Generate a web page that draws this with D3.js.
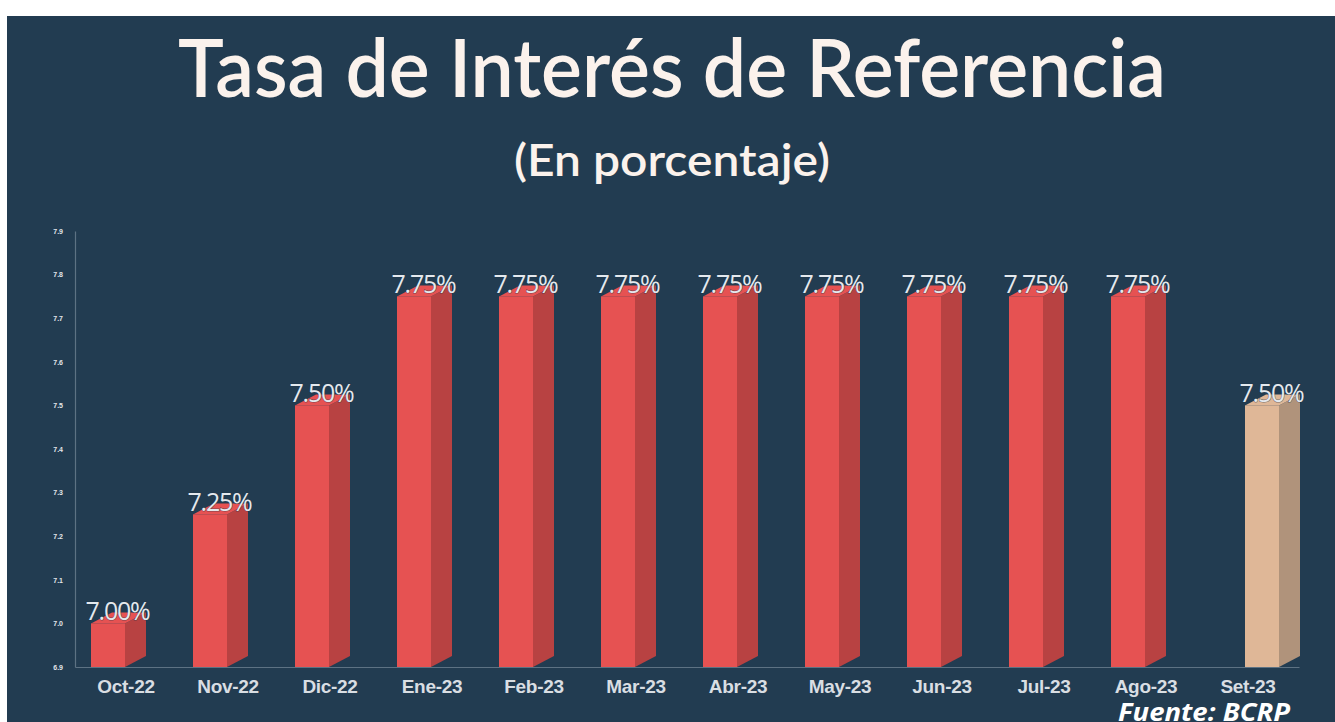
<!DOCTYPE html>
<html>
<head>
<meta charset="utf-8">
<script src="https://cdn.jsdelivr.net/npm/d3@7"></script>
<style>
  html, body { margin: 0; padding: 0; background: #fff; }
  svg { display: block; }
</style>
</head>
<body>
<div id="chart"></div>
<script>
// Tasa de interés de referencia BCRP, Oct-22 a Set-23
const months = ["Oct-22", "Nov-22", "Dic-22", "Ene-23", "Feb-23", "Mar-23", "Abr-23",
                "May-23", "Jun-23", "Jul-23", "Ago-23", "Set-23"];
const rates = [7.00, 7.25, 7.50, 7.75, 7.75, 7.75, 7.75, 7.75, 7.75, 7.75, 7.75, 7.50];
const yTicks = [6.9, 7.0, 7.1, 7.2, 7.3, 7.4, 7.5, 7.6, 7.7, 7.8, 7.9];
const lastMonth = "Set-23"; // highlighted in a different colour

const W = 1335, H = 722;
const BG = "#223c51";
const FRONT = "#e65252", SIDE = "#b84242";
const FRONT_HI = "#dfb797", SIDE_HI = "#b0937b";
const DEPTH_X = 21, DEPTH_Y = 11, FACE_W = 34;

const svg = d3.select("#chart").append("svg")
  .attr("width", W).attr("height", H);

svg.append("rect").attr("x", 7).attr("y", 16).attr("width", W - 7).attr("height", H - 16)
  .attr("fill", BG);

// titles
svg.append("text").attr("x", 672).attr("y", 97).attr("text-anchor", "middle")
  .attr("font-family", "Lato, 'Open Sans', sans-serif").attr("font-size", 80)
  .attr("font-weight", 600).attr("fill", "#fbf2ec")
  .attr("textLength", 988).attr("lengthAdjust", "spacingAndGlyphs")
  .text("Tasa de Interés de Referencia");
svg.append("text").attr("x", 672).attr("y", 176).attr("text-anchor", "middle")
  .attr("font-family", "Lato, 'Open Sans', sans-serif").attr("font-size", 44)
  .attr("font-weight", 600).attr("fill", "#fbf2ec")
  .attr("textLength", 316).attr("lengthAdjust", "spacingAndGlyphs")
  .text("(En porcentaje)");

const x = d3.scaleBand().domain(months).range([75, 1299]);
const y = d3.scaleLinear().domain([6.9, 7.9]).range([667, 231]);

// axes
const yAxis = svg.append("g").attr("transform", "translate(75,0)")
  .call(d3.axisLeft(y).tickValues(yTicks).tickSize(0).tickPadding(12).tickFormat(d3.format(".1f")));
yAxis.select(".domain").attr("stroke", "#5d7283").attr("stroke-width", 1.2);
yAxis.selectAll("text").attr("fill", "#e2e6ea").attr("font-size", 7)
  .attr("font-weight", 700).attr("font-family", "'Liberation Sans', Arial, sans-serif");

const xAxis = svg.append("g").attr("transform", "translate(0,667)")
  .call(d3.axisBottom(x).tickSize(0).tickPadding(13));
xAxis.select(".domain").attr("stroke", "#5d7283").attr("stroke-width", 1.2);
xAxis.selectAll("text").attr("fill", "#d9dee3").attr("font-size", 19)
  .attr("font-weight", 700).attr("letter-spacing", -0.3)
  .attr("font-family", "'Liberation Sans', Arial, sans-serif");

// 3D bars
const rows = months.map((m, i) => ({ m, v: rates[i] }));
const bx = d => x(d.m) + x.bandwidth() / 2 - 35 + (d.m === lastMonth ? 32 : 0);
const base = y(6.9);

const bars = svg.append("g").selectAll("g").data(rows).join("g");
bars.append("path")
  .attr("fill", d => d.m === lastMonth ? SIDE_HI : SIDE)
  .attr("d", d => {
    const x0 = bx(d) + FACE_W, t = y(d.v);
    return `M${x0},${t}L${x0 + DEPTH_X},${t - DEPTH_Y}L${x0 + DEPTH_X},${base - DEPTH_Y}L${x0},${base}Z`;
  });
bars.append("path")
  .attr("fill", d => d.m === lastMonth ? FRONT_HI : FRONT)
  .attr("d", d => {
    const x0 = bx(d), t = y(d.v);
    return `M${x0},${t}L${x0 + DEPTH_X},${t - DEPTH_Y}L${x0 + FACE_W + DEPTH_X},${t - DEPTH_Y}L${x0 + FACE_W},${t}Z`;
  });
bars.append("rect")
  .attr("x", d => bx(d)).attr("y", d => y(d.v))
  .attr("width", FACE_W).attr("height", d => base - y(d.v))
  .attr("fill", d => d.m === lastMonth ? FRONT_HI : FRONT);

// value labels
bars.append("text")
  .attr("x", d => bx(d) + (FACE_W + DEPTH_X) / 2 - 1)
  .attr("y", d => y(d.v) - 3)
  .attr("text-anchor", "middle")
  .attr("font-family", "'Open Sans', sans-serif").attr("font-size", 25)
  .attr("font-weight", 400).attr("letter-spacing", -1.2)
  .attr("fill", "#e4e9ee")
  .attr("stroke", "rgba(30,50,70,0.55)").attr("stroke-width", 1.2).attr("paint-order", "stroke")
  .text(d => d3.format(".2f")(d.v) + "%");

// source
svg.append("text").attr("x", 1290).attr("y", 721).attr("text-anchor", "end")
  .attr("font-family", "'Open Sans', sans-serif").attr("font-size", 25)
  .attr("font-style", "italic").attr("font-weight", 700).attr("fill", "#ffffff")
  .attr("textLength", 172).attr("lengthAdjust", "spacingAndGlyphs")
  .text("Fuente: BCRP");
</script>
</body>
</html>
